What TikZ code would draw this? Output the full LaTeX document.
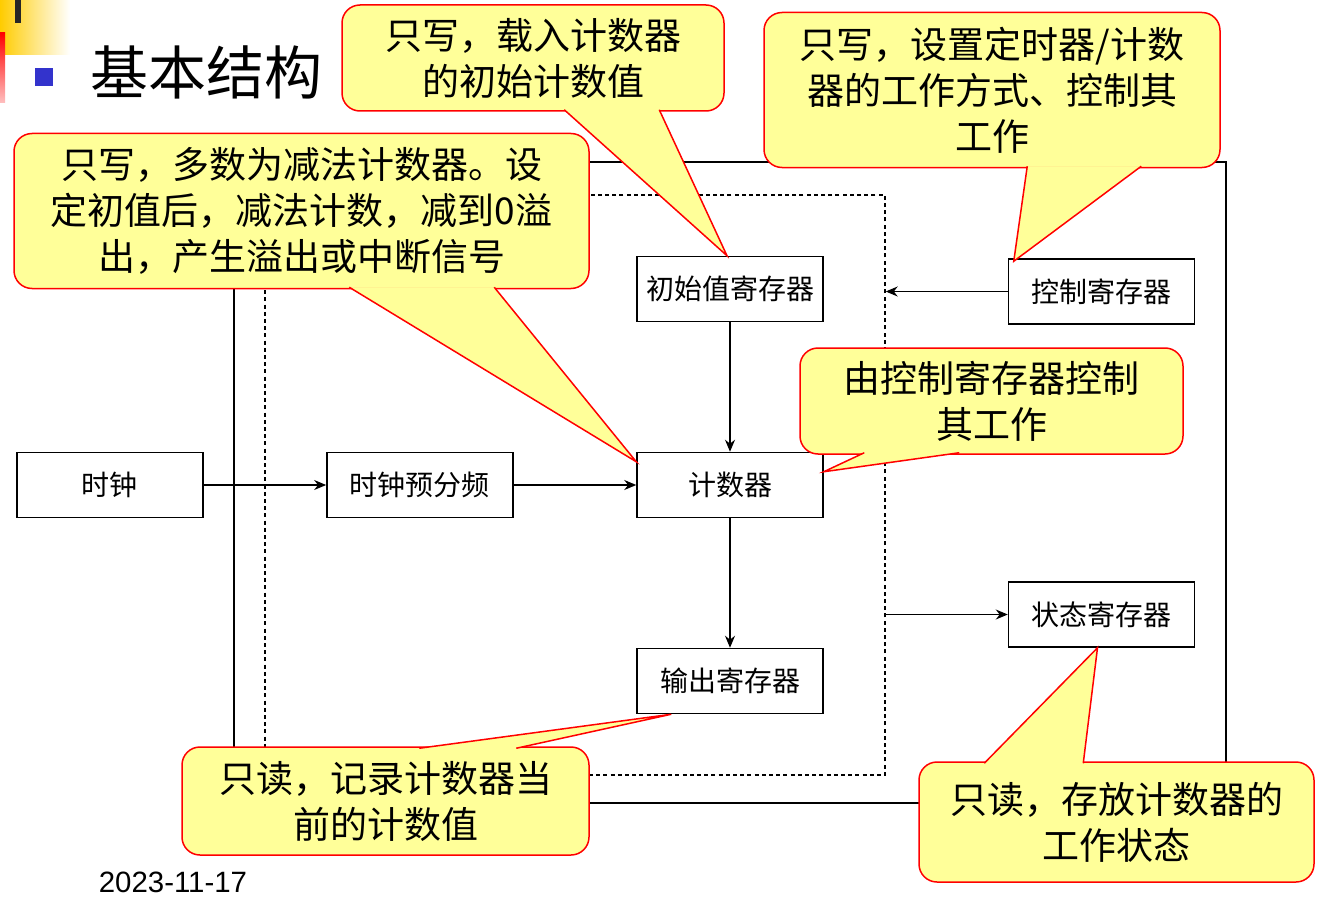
\documentclass[tikz,border=0pt]{standalone}
\usepackage{fontspec}
\setmainfont{Liberation Sans}
\newfontfamily\cjk{Noto Sans CJK SC}
\usetikzlibrary{arrows.meta,positioning,calc}
\definecolor{noteyellow}{RGB}{255,255,153}
\definecolor{notered}{RGB}{255,0,0}
\definecolor{bulblue}{RGB}{51,51,204}
\definecolor{deckyellow}{RGB}{255,204,0}

\begin{document}
\begin{tikzpicture}[x=0.5pt,y=-0.5pt,
  node distance=64.75pt and 61.3pt,
  blk/.style={draw=black,line width=0.75pt,fill=white,minimum width=93pt,
    minimum height=32.5pt,inner sep=0pt,font=\cjk\fontsize{14}{16}\selectfont},
  note/.style={draw=notered,fill=noteyellow,line width=0.75pt,rounded corners=9pt,
    align=center,inner sep=0pt,font=\cjk\fontsize{18.5}{23}\selectfont},
  notetail/.style={draw=notered,fill=noteyellow,line width=0.75pt},
  arr/.style={-{Stealth[length=6pt,width=5pt]},line width=0.6pt}]
  \useasboundingbox (0,0) rectangle (1327,899);
  \shade[left color=deckyellow,right color=white] (0,0) rectangle (70,55);
  \fill[black!85] (15,0) rectangle (21,23);
  \shade[top color=notered,bottom color=notered!25] (0,33) rectangle (5,103);
  \node[fill=bulblue,minimum size=9pt,inner sep=0pt] (bul) at (43.5,77) {};
  \node[font=\cjk\fontsize{29}{34}\selectfont] (ttl) at (206,72) {基本结构};
  \node[font=\fontsize{14.7}{17}\selectfont] (date) at (173,882) {2023-11-17};

  \node[draw,line width=1pt,minimum width=496pt,minimum height=320.5pt,inner sep=0pt] (sys) at (730,482.5) {};
  \node[draw,line width=0.7pt,dash pattern=on 2pt off 1.6pt,minimum width=310pt,minimum height=290pt,inner sep=0pt] (core) at (575,485) {};

  \node[blk] (cnt) at (730,485) {计数器};
  \node[blk,left=of cnt] (pre) {时钟预分频};
  \node[blk,left=of pre] (clk) {时钟};
  \node[blk,above=of cnt] (init) {初始值寄存器};
  \node[blk,below=of cnt] (out) {输出寄存器};
  \node[blk] (ctl) at (1101.5,291.5) {控制寄存器};
  \node[blk] (sta) at (1101.5,614.5) {状态寄存器};

  \draw[arr] (clk) -- (pre);
  \draw[arr] (pre) -- (cnt);
  \draw[arr] (init) -- (cnt);
  \draw[arr] (cnt) -- (out);
  \draw[arr] (ctl) -- (ctl -| core.east);
  \draw[arr] (core.east |- sta) -- (sta);

  \node[note,minimum width=191pt,minimum height=53pt] (n1) at (533,58) {只写，载入计数器\\的初始计数值};
  \filldraw[notetail] ($(n1.south west)+(223,-2)$) -- ($(init.north)+(-3,0)$) -- ($(n1.south west)+(318,-2)$);
  \node[note,minimum width=228pt,minimum height=77.5pt] (n2) at (992,90) {只写，设置定时器/计数\\器的工作方式、控制其\\工作};
  \filldraw[notetail] ($(n2.south west)+(264,-2)$) -- ($(ctl.north west)+(6,3)$) -- ($(n2.south west)+(378,-2)$);
  \node[note,minimum width=287.5pt,minimum height=77.5pt] (n3) at (301.5,211) {只写，多数为减法计数器。设\\定初值后，减法计数，减到0溢\\出，产生溢出或中断信号};
  \filldraw[notetail] ($(n3.south west)+(336,-2)$) -- ($(cnt.north west)+(0,10)$) -- ($(n3.south west)+(481,-2)$);
  \node[note,minimum width=191.5pt,minimum height=53pt] (n4) at (991.5,401) {由控制寄存器控制\\其工作};
  \filldraw[notetail] ($(n4.south west)+(65,-2)$) -- ($(cnt.north east)+(0,20)$) -- ($(n4.south west)+(160,-2)$);
  \node[note,minimum width=203.5pt,minimum height=54pt] (n5) at (385.5,801) {只读，记录计数器当\\前的计数值};
  \filldraw[notetail] ($(n5.north west)+(238,2)$) -- ($(out.south west)+(35,0)$) -- ($(n5.north west)+(335,2)$);
  \node[note,minimum width=197.5pt,minimum height=60pt] (n6) at (1116.5,822) {只读，存放计数器的\\工作状态};
  \filldraw[notetail] ($(n6.north west)+(66,2)$) -- ($(sta.south)+(-4,0)$) -- ($(n6.north west)+(165,2)$);
\end{tikzpicture}
\end{document}
